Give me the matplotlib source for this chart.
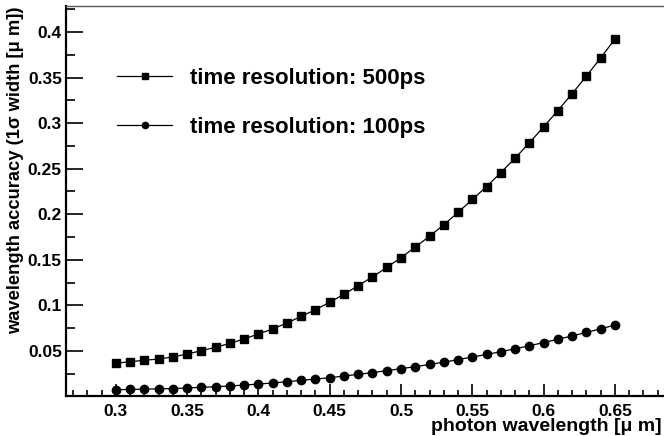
import matplotlib
matplotlib.use("Agg")
import matplotlib.pyplot as plt
from matplotlib.ticker import MultipleLocator, FormatStrFormatter

plt.rcParams['font.family'] = ['Liberation Sans', 'DejaVu Sans']
plt.rcParams['font.weight'] = 'bold'

# photon wavelength [um]
wavelength = [0.30, 0.31, 0.32, 0.33, 0.34, 0.35, 0.36, 0.37, 0.38, 0.39,
              0.40, 0.41, 0.42, 0.43, 0.44, 0.45, 0.46, 0.47, 0.48, 0.49,
              0.50, 0.51, 0.52, 0.53, 0.54, 0.55, 0.56, 0.57, 0.58, 0.59,
              0.60, 0.61, 0.62, 0.63, 0.64, 0.65]

# wavelength accuracy, 500ps time resolution
acc500 = [0.0365, 0.0383, 0.0398, 0.0412, 0.0434, 0.0467, 0.0503, 0.0541,
          0.0584, 0.0632, 0.0687, 0.0741, 0.0807, 0.0880, 0.0953, 0.1034,
          0.1122, 0.1217, 0.1313, 0.1416, 0.1524, 0.1640, 0.1759, 0.1884,
          0.2020, 0.2162, 0.2303, 0.2457, 0.2615, 0.2783, 0.2958, 0.3137,
          0.3323, 0.3514, 0.3715, 0.3920]

# wavelength accuracy, 100ps time resolution
acc100 = [0.0075, 0.0078, 0.0081, 0.0084, 0.0088, 0.0094, 0.0101, 0.0108,
          0.0116, 0.0126, 0.0137, 0.0149, 0.0163, 0.0177, 0.0192, 0.0207,
          0.0225, 0.0244, 0.0263, 0.0284, 0.0306, 0.0328, 0.0352, 0.0377,
          0.0405, 0.0434, 0.0462, 0.0492, 0.0524, 0.0557, 0.0592, 0.0628,
          0.0665, 0.0703, 0.0743, 0.0784]

labels = ['time resolution: 500ps', 'time resolution: 100ps']

fig = plt.figure(figsize=(6.64, 4.36), dpi=100)
# axes runs a little past the right edge of the picture, like the original
ax = fig.add_axes([66/664, 40/436, 604/664, 390/436])

ax.plot(wavelength, acc500, color='black', lw=0.9, marker='s', ms=6,
        label=labels[0])
ax.plot(wavelength, acc100, color='black', lw=0.9, marker='o', ms=6,
        label=labels[1])

ax.set_xlim(0.265, 0.6887)
ax.set_ylim(0.0006, 0.4285)

ax.xaxis.set_major_locator(MultipleLocator(0.05))
ax.xaxis.set_minor_locator(MultipleLocator(0.01))
ax.yaxis.set_major_locator(MultipleLocator(0.05))
ax.yaxis.set_minor_locator(MultipleLocator(0.025))
ax.xaxis.set_major_formatter(FormatStrFormatter('%g'))
ax.yaxis.set_major_formatter(FormatStrFormatter('%g'))

ax.tick_params(axis='both', which='both', direction='in', width=1.2,
               labelsize=12.5, top=False, right=False)
ax.tick_params(axis='x', which='major', length=8.6, pad=6)
ax.tick_params(axis='x', which='minor', length=4.3)
ax.tick_params(axis='y', which='major', length=12.2, pad=3)
ax.tick_params(axis='y', which='minor', length=6.5)

ax.spines['left'].set_linewidth(1.6)
ax.spines['bottom'].set_linewidth(1.6)
ax.spines['top'].set_linewidth(1.0)
ax.spines['top'].set_color('#555555')
ax.spines['right'].set_visible(False)

fig.text(0.997, 0.002, 'photon wavelength [μ m]', ha='right', va='bottom',
         fontsize=14, fontweight='bold')
fig.text(0.023, 0.985, 'wavelength accuracy (1σ width [μ m])', rotation=90,
         ha='center', va='top', fontsize=13.2, fontweight='bold')

ax.legend(loc='upper left', bbox_to_anchor=(0.0844, 0.841), frameon=False,
          fontsize=16, handlelength=2.48, handletextpad=0.8,
          labelspacing=1.25, borderaxespad=0, borderpad=0, markerscale=0.75)

fig.savefig('out.png', dpi=100)
